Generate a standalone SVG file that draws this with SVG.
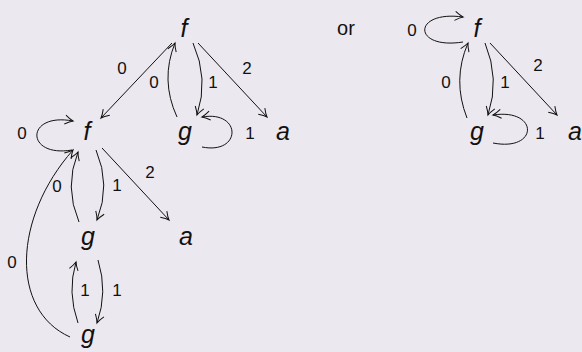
<svg xmlns="http://www.w3.org/2000/svg" width="582" height="352" viewBox="0 0 582 352">
<defs>
<style>
.n{font-family:"Liberation Sans",Arial,sans-serif;font-style:italic;font-size:25px;fill:#111;text-anchor:middle}
.l{font-family:"Liberation Sans",Arial,sans-serif;font-size:17px;fill:#111;text-anchor:middle}
.e{fill:none;stroke:#111;stroke-width:1;marker-end:url(#ah)}
</style>
<marker id="ah" viewBox="-10 -6 12 12" markerWidth="12" markerHeight="12" refX="0" refY="0" orient="auto" markerUnits="userSpaceOnUse">
<path d="M-8,-4.5 Q-3,-1 0,0 Q-3,1 -8,4.5" fill="none" stroke="#111" stroke-width="1"/>
</marker>
</defs>
<rect width="582" height="352" fill="#ece8ef"/>
<g id="n-f-top"><text class="n" x="184" y="37">f</text></g>
<g id="n-f-mid"><text class="n" x="87" y="140">f</text></g>
<g id="n-g-mid"><text class="n" x="185" y="140">g</text></g>
<g id="n-a-mid"><text class="n" x="283" y="140">a</text></g>
<g id="n-g-low"><text class="n" x="88" y="245">g</text></g>
<g id="n-a-low"><text class="n" x="186" y="245">a</text></g>
<g id="n-g-bot"><text class="n" x="88" y="343">g</text></g>
<g id="n-or"><text class="l" x="346" y="35" style="font-size:20px">or</text></g>
<g id="n-f-right"><text class="n" x="477" y="37">f</text></g>
<g id="n-g-right"><text class="n" x="477" y="140">g</text></g>
<g id="n-a-right"><text class="n" x="575" y="140">a</text></g>
<g id="connectors">
<path class="e" d="M172,43 L101,118"/>
<path class="e" d="M177,117 Q160,80 175,43"/>
<path class="e" d="M193,43 Q209,79 197,115"/>
<path class="e" d="M198,43 L267,117"/>
<path class="e" d="M202,147 C242,155 242,110 202,117"/>
<path class="e" d="M72,150 C25,158 25,112 73,121"/>
<path class="e" d="M79,222 Q64,187 78,152"/>
<path class="e" d="M96,150 Q111,185 97,220"/>
<path class="e" d="M102,148 L169,220"/>
<path class="e" d="M70,337 C10,310 13,218 73,150"/>
<path class="e" d="M78,323 Q67,292 76,262"/>
<path class="e" d="M98,260 Q108,292 97,323"/>
<path class="e" d="M463,42 C412,50 412,10 463,17"/>
<path class="e" d="M467,118 Q452,80 468,43"/>
<path class="e" d="M485,43 Q500,79 488,115"/>
<path class="e" d="M490,43 L557,115"/>
<path class="e" d="M493,143 C539,152 539,108 493,115"/>
</g>
<g id="labels">
<text class="l" x="122" y="74">0</text>
<text class="l" x="154" y="88">0</text>
<text class="l" x="213" y="88">1</text>
<text class="l" x="247" y="74">2</text>
<text class="l" x="22" y="139">0</text>
<text class="l" x="250" y="139">1</text>
<text class="l" x="57" y="192">0</text>
<text class="l" x="117" y="191">1</text>
<text class="l" x="150" y="178">2</text>
<text class="l" x="12" y="268">0</text>
<text class="l" x="85" y="296">1</text>
<text class="l" x="117" y="296">1</text>
<text class="l" x="412" y="36">0</text>
<text class="l" x="446" y="88">0</text>
<text class="l" x="505" y="88">1</text>
<text class="l" x="538" y="71">2</text>
<text class="l" x="540" y="139">1</text>
</g>
</svg>
